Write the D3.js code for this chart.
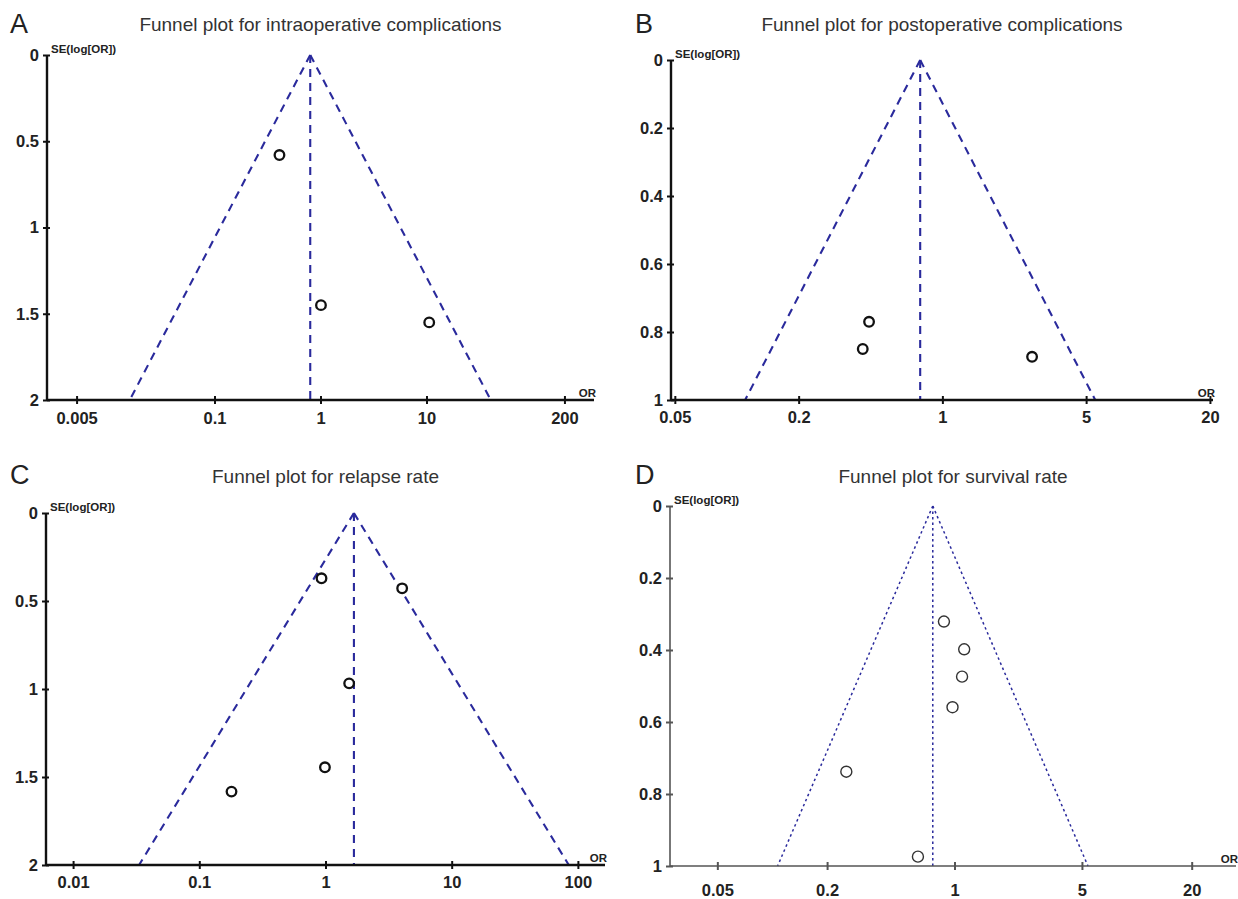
<!DOCTYPE html>
<html>
<head>
<meta charset="utf-8">
<script src="https://cdn.jsdelivr.net/npm/d3@7"></script>
<style>
  body { margin: 0; background: #fff; }
  text { font-family: "Liberation Sans", Arial, sans-serif; }
</style>
</head>
<body>
<svg id="chart" width="1238" height="899"></svg>
<script>
// ---- data ----
var letters = ["A", "B", "C", "D"];
var titles = [
    "Funnel plot for intraoperative complications",
    "Funnel plot for postoperative complications",
    "Funnel plot for relapse rate",
    "Funnel plot for survival rate"
];

// odds ratio and SE(log[OR]) of each study
var orA = [0.41, 1.01, 10.6];
var seA = [0.58, 1.45, 1.55];
var orB = [0.44, 0.41, 2.73];
var seB = [0.77, 0.85, 0.873];
var orC = [0.93, 4.05, 1.54, 0.99, 0.18];
var seC = [0.371, 0.428, 0.968, 1.445, 1.583];
var orD = [0.875, 1.13, 1.10, 0.975, 0.255, 0.63];
var seD = [0.321, 0.398, 0.474, 0.559, 0.738, 0.974];

// pooled odds ratio (apex of each funnel)
var pooled = [0.80, 0.78, 1.68, 0.76];

// tick values
var xTicksA = [0.005, 0.1, 1, 10, 200];
var xTicksB = [0.05, 0.2, 1, 5, 20];
var xTicksC = [0.01, 0.1, 1, 10, 100];
var xTicksD = [0.05, 0.2, 1, 5, 20];
var yTicksA = [0, 0.5, 1, 1.5, 2];
var yTicksB = [0, 0.2, 0.4, 0.6, 0.8, 1];
var yTicksC = [0, 0.5, 1, 1.5, 2];
var yTicksD = [0, 0.2, 0.4, 0.6, 0.8, 1];

// ---- layout ----
var panels = [
    { or: orA, se: seA, xt: xTicksA, yt: yTicksA, left: 47, right: 594, top: 55, bottom: 400,
      xd: [0.00263, 380], yMax: 2, lx: 10, ly: 33, ty: 31, labY: 24, dotted: false },
    { or: orB, se: seB, xt: xTicksB, yt: yTicksB, left: 671, right: 1213, top: 60, bottom: 400,
      xd: [0.0479, 20.7], yMax: 1, lx: 635, ly: 33, ty: 31, labY: 23, dotted: false },
    { or: orC, se: seC, xt: xTicksC, yt: yTicksC, left: 46, right: 605, top: 513, bottom: 865,
      xd: [0.0061, 164], yMax: 2, lx: 10, ly: 484, ty: 483, labY: 23, dotted: false },
    { or: orD, se: seD, xt: xTicksD, yt: yTicksD, left: 670, right: 1236, top: 506, bottom: 866,
      xd: [0.0275, 35], yMax: 1, lx: 635, ly: 484, ty: 483, labY: 30, dotted: true }
];

var blue = "#2a2a9c";
var svg = d3.select("#chart");

panels.forEach(function(p, i) {
    var g = svg.append("g");

    var x = d3.scaleLog().domain(p.xd).range([p.left, p.right]);
    var y = d3.scaleLinear().domain([0, p.yMax]).range([p.top, p.bottom]);

    var axisColor = p.dotted ? "#555" : "#111";
    var axisWidth = p.dotted ? 1.6 : 2.4;

    // panel letter and title
    g.append("text")
        .attr("x", p.lx).attr("y", p.ly)
        .attr("font-size", 27).attr("fill", "#222")
        .text(letters[i]);

    g.append("text")
        .attr("x", (p.left + p.right) / 2).attr("y", p.ty)
        .attr("text-anchor", "middle")
        .attr("font-size", 19).attr("fill", "#333")
        .text(titles[i]);

    // funnel lines: pooled OR +/- 1.96 SE on the log scale
    var seMax = p.yMax;
    var k = 1.96;
    var funnel = [
        [[x(pooled[i]), y(0)], [x(pooled[i] * Math.exp(-k * seMax)), y(seMax)]],
        [[x(pooled[i]), y(0)], [x(pooled[i] * Math.exp(k * seMax)), y(seMax)]],
        [[x(pooled[i]), y(0)], [x(pooled[i]), y(seMax)]]
    ];
    g.selectAll(".funnel")
        .data(funnel)
        .enter()
        .append("line")
        .attr("x1", function(d) { return d[0][0]; })
        .attr("y1", function(d) { return d[0][1]; })
        .attr("x2", function(d) { return d[1][0]; })
        .attr("y2", function(d) { return d[1][1]; })
        .attr("stroke", blue)
        .attr("stroke-width", p.dotted ? 1.5 : 2.1)
        .attr("stroke-dasharray", p.dotted ? "2.5,3" : "8,6");

    // x axis
    var xAxis = d3.axisBottom(x)
        .tickValues(p.xt)
        .tickFormat(function(d) { return String(d); })
        .tickSizeInner(4)
        .tickSizeOuter(0);
    var gx = g.append("g")
        .attr("transform", "translate(0," + p.bottom + ")")
        .call(xAxis);
    gx.select(".domain").remove();
    gx.selectAll(".tick line")
        .attr("y1", -4).attr("y2", 4)
        .attr("stroke", axisColor).attr("stroke-width", 2);
    gx.selectAll(".tick text")
        .attr("y", p.labY).attr("dy", null)
        .attr("font-size", 16.5).attr("font-weight", "bold")
        .attr("font-family", "'Liberation Sans', Arial, sans-serif")
        .attr("fill", "#222");
    gx.append("line")
        .attr("x1", p.left).attr("x2", p.right)
        .attr("stroke", axisColor).attr("stroke-width", axisWidth);

    // y axis
    var yAxis = d3.axisLeft(y)
        .tickValues(p.yt)
        .tickFormat(function(d) { return String(d); })
        .tickSizeInner(4)
        .tickSizeOuter(0)
        .tickPadding(4);
    var gy = g.append("g")
        .attr("transform", "translate(" + p.left + ",0)")
        .call(yAxis);
    gy.select(".domain").remove();
    gy.selectAll(".tick line")
        .attr("x1", 3).attr("x2", -4)
        .attr("stroke", axisColor).attr("stroke-width", 2);
    gy.selectAll(".tick text")
        .attr("font-size", 16.5).attr("font-weight", "bold")
        .attr("font-family", "'Liberation Sans', Arial, sans-serif")
        .attr("fill", "#222");
    gy.append("line")
        .attr("y1", p.top).attr("y2", p.bottom)
        .attr("stroke", axisColor).attr("stroke-width", axisWidth);

    // axis captions
    g.append("text")
        .attr("x", p.left + 4).attr("y", p.top - 2)
        .attr("font-size", 11.5).attr("font-weight", "bold").attr("fill", "#222")
        .text("SE(log[OR])");
    g.append("text")
        .attr("x", p.right + 2).attr("y", p.bottom - 3)
        .attr("text-anchor", "end")
        .attr("font-size", 11.5).attr("font-weight", "bold").attr("fill", "#222")
        .text("OR");

    // studies
    g.selectAll(".study")
        .data(d3.zip(p.or, p.se))
        .enter()
        .append("circle")
        .attr("cx", function(d) { return x(d[0]); })
        .attr("cy", function(d) { return y(d[1]); })
        .attr("r", p.dotted ? 5.5 : 4.8)
        .attr("fill", "white")
        .attr("stroke", p.dotted ? "#333" : "#111")
        .attr("stroke-width", p.dotted ? 1.4 : 2.3);
});
</script>
</body>
</html>
